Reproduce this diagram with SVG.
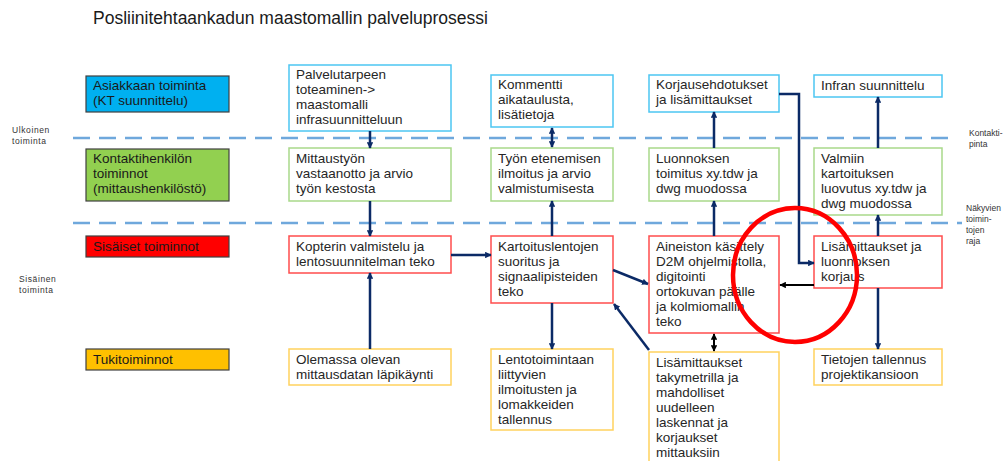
<svg xmlns="http://www.w3.org/2000/svg" width="1008" height="461" viewBox="0 0 1008 461">
  <defs>
    <marker id="ah" viewBox="0 0 10 10" refX="9" refY="5" markerWidth="6.5" markerHeight="6.5" markerUnits="userSpaceOnUse" orient="auto-start-reverse">
      <path d="M0,0 L10,5 L0,10 Z" fill="#0b2a66"/>
    </marker>
    <marker id="ahk" viewBox="0 0 10 10" refX="9" refY="5" markerWidth="6.5" markerHeight="6.5" markerUnits="userSpaceOnUse" orient="auto-start-reverse">
      <path d="M0,0 L10,5 L0,10 Z" fill="#000"/>
    </marker>
    <style>
      text { font-family: "Liberation Sans", Arial, sans-serif; fill: #262626; }
      .t { font-size: 13.5px; }
      .cat { font-size: 13.5px; fill: #1a1a1a; }
      .sm { font-size: 8.5px; fill: #333; }
      .smL { font-size: 8.5px; fill: #333; letter-spacing: 0.6px; }
      .catbox { stroke: #404040; stroke-width: 1.2; }
      .box { fill: #fff; stroke-width: 1.5; }
      .cy { stroke: #4cc6f2; }
      .gr { stroke: #a9d98a; }
      .rd { stroke: #ff4d4d; }
      .yl { stroke: #ffd25e; }
      .lane { stroke: #6fa8dc; stroke-width: 2.5; stroke-dasharray: 17 9; fill: none; }
      .c { stroke: #0b2a66; stroke-width: 2.5; fill: none; marker-end: url(#ah); }
      .cb { stroke: #0b2a66; stroke-width: 2.5; fill: none; marker-start: url(#ah); marker-end: url(#ah); }
      .ck { stroke: #000; stroke-width: 1.8; fill: none; marker-end: url(#ahk); }
      .ckb { stroke: #000; stroke-width: 2; fill: none; marker-start: url(#ahk); marker-end: url(#ahk); }
    </style>
  </defs>

  <rect width="1008" height="461" fill="#fff"/>

  <!-- Title -->
  <text x="93" y="24" font-size="17.5" style="fill:#1a1a1a">Posliinitehtaankadun maastomallin palveluprosessi</text>

  <!-- Lane boundaries -->
  <g id="lanes">
    <line class="lane" x1="73" y1="138" x2="948" y2="138"/>
    <line class="lane" x1="73" y1="223" x2="962" y2="223"/>
    <text class="smL" x="12" y="133">Ulkoinen</text>
    <text class="smL" x="12" y="144">toiminta</text>
    <text class="smL" x="19" y="282">Sisäinen</text>
    <text class="smL" x="19" y="293">toiminta</text>
    <text class="sm" x="969" y="136">Kontakti-</text>
    <text class="sm" x="969" y="147">pinta</text>
    <text class="sm" x="966" y="211">Näkyvien</text>
    <text class="sm" x="966" y="222">toimin-</text>
    <text class="sm" x="966" y="233">tojen</text>
    <text class="sm" x="966" y="244">raja</text>
  </g>

  <!-- Lane headings -->
  <g id="cat-asiakas">
    <rect class="catbox" x="86" y="76" width="143" height="36" fill="#00b0f0"/>
    <text class="cat" x="93" y="90">Asiakkaan toiminta</text>
    <text class="cat" x="93" y="105">(KT suunnittelu)</text>
  </g>
  <g id="cat-kontakti">
    <rect class="catbox" x="86" y="149" width="143" height="52" fill="#92d050"/>
    <text class="cat" x="93" y="163">Kontaktihenkilön</text>
    <text class="cat" x="93" y="178">toiminnot</text>
    <text class="cat" x="93" y="193">(mittaushenkilöstö)</text>
  </g>
  <g id="cat-sisaiset">
    <rect class="catbox" x="86" y="236" width="143" height="21" fill="#ff0000"/>
    <text class="cat" x="93" y="251">Sisäiset toiminnot</text>
  </g>
  <g id="cat-tuki">
    <rect class="catbox" x="86" y="349" width="143" height="21" fill="#ffc000"/>
    <text class="cat" x="93" y="364">Tukitoiminnot</text>
  </g>

  <!-- Column 1 -->
  <g id="n-palvelutarve">
    <rect class="box cy" x="289" y="65" width="162" height="66"/>
    <text class="t" x="296" y="79">Palvelutarpeen</text>
    <text class="t" x="296" y="94">toteaminen-&gt;</text>
    <text class="t" x="296" y="109">maastomalli</text>
    <text class="t" x="296" y="124">infrasuunnitteluun</text>
  </g>
  <g id="n-mittaustyo">
    <rect class="box gr" x="289" y="148" width="162" height="53"/>
    <text class="t" x="296" y="163">Mittaustyön</text>
    <text class="t" x="296" y="178">vastaanotto ja arvio</text>
    <text class="t" x="296" y="193">työn kestosta</text>
  </g>
  <g id="n-kopteri">
    <rect class="box rd" x="289" y="236" width="162" height="37"/>
    <text class="t" x="296" y="251">Kopterin valmistelu ja</text>
    <text class="t" x="296" y="266">lentosuunnitelman teko</text>
  </g>
  <g id="n-olemassa">
    <rect class="box yl" x="289" y="349" width="162" height="36"/>
    <text class="t" x="296" y="364">Olemassa olevan</text>
    <text class="t" x="296" y="379">mittausdatan läpikäynti</text>
  </g>

  <!-- Column 2 -->
  <g id="n-kommentti">
    <rect class="box cy" x="491" y="75" width="122" height="52"/>
    <text class="t" x="498" y="89">Kommentti</text>
    <text class="t" x="498" y="104">aikataulusta,</text>
    <text class="t" x="498" y="119">lisätietoja</text>
  </g>
  <g id="n-eteneminen">
    <rect class="box gr" x="491" y="148" width="122" height="53"/>
    <text class="t" x="498" y="163">Työn etenemisen</text>
    <text class="t" x="498" y="178">ilmoitus ja arvio</text>
    <text class="t" x="498" y="193">valmistumisesta</text>
  </g>
  <g id="n-kartoituslennot">
    <rect class="box rd" x="491" y="236" width="122" height="67"/>
    <text class="t" x="498" y="251">Kartoituslentojen</text>
    <text class="t" x="498" y="266">suoritus ja</text>
    <text class="t" x="498" y="281">signaalipisteiden</text>
    <text class="t" x="498" y="296">teko</text>
  </g>
  <g id="n-lentotoiminta">
    <rect class="box yl" x="491" y="349" width="122" height="81"/>
    <text class="t" x="498" y="364">Lentotoimintaan</text>
    <text class="t" x="498" y="379">liittyvien</text>
    <text class="t" x="498" y="394">ilmoitusten ja</text>
    <text class="t" x="498" y="409">lomakkeiden</text>
    <text class="t" x="498" y="424">tallennus</text>
  </g>

  <!-- Column 3 -->
  <g id="n-korjausehdotukset">
    <rect class="box cy" x="649" y="75" width="130" height="37"/>
    <text class="t" x="656" y="89">Korjausehdotukset</text>
    <text class="t" x="656" y="104">ja lisämittaukset</text>
  </g>
  <g id="n-luonnos">
    <rect class="box gr" x="649" y="148" width="130" height="53"/>
    <text class="t" x="656" y="163">Luonnoksen</text>
    <text class="t" x="656" y="178">toimitus xy.tdw ja</text>
    <text class="t" x="656" y="193">dwg muodossa</text>
  </g>
  <g id="n-aineisto">
    <rect class="box rd" x="649" y="236" width="130" height="97"/>
    <text class="t" x="656" y="251">Aineiston käsittely</text>
    <text class="t" x="656" y="266">D2M ohjelmistolla,</text>
    <text class="t" x="656" y="281">digitointi</text>
    <text class="t" x="656" y="296">ortokuvan päälle</text>
    <text class="t" x="656" y="311">ja kolmiomallin</text>
    <text class="t" x="656" y="326">teko</text>
  </g>
  <g id="n-lisamittaukset-taky">
    <rect class="box yl" x="649" y="352" width="130" height="115"/>
    <text class="t" x="656" y="367">Lisämittaukset</text>
    <text class="t" x="656" y="382">takymetrilla ja</text>
    <text class="t" x="656" y="397">mahdolliset</text>
    <text class="t" x="656" y="412">uudelleen</text>
    <text class="t" x="656" y="427">laskennat ja</text>
    <text class="t" x="656" y="442">korjaukset</text>
    <text class="t" x="656" y="457">mittauksiin</text>
  </g>

  <!-- Column 4 -->
  <g id="n-infra">
    <rect class="box cy" x="814" y="75" width="128" height="22"/>
    <text class="t" x="821" y="90">Infran suunnittelu</text>
  </g>
  <g id="n-valmis">
    <rect class="box gr" x="814" y="148" width="128" height="67"/>
    <text class="t" x="821" y="163">Valmiin</text>
    <text class="t" x="821" y="178">kartoituksen</text>
    <text class="t" x="821" y="193">luovutus xy.tdw ja</text>
    <text class="t" x="821" y="208">dwg muodossa</text>
  </g>
  <g id="n-korjaus">
    <rect class="box rd" x="814" y="236" width="128" height="52"/>
    <text class="t" x="821" y="251">Lisämittaukset ja</text>
    <text class="t" x="821" y="266">luonnoksen</text>
    <text class="t" x="821" y="281">korjaus</text>
  </g>
  <g id="n-tallennus">
    <rect class="box yl" x="814" y="349" width="128" height="36"/>
    <text class="t" x="821" y="364">Tietojen tallennus</text>
    <text class="t" x="821" y="379">projektikansioon</text>
  </g>

  <!-- Connectors -->
  <g id="connectors">
    <line class="c" x1="370" y1="131" x2="370" y2="148"/>
    <line class="c" x1="370" y1="201" x2="370" y2="236"/>
    <line class="c" x1="370" y1="349" x2="370" y2="273"/>
    <line class="c" x1="451" y1="255" x2="491" y2="255"/>

    <line class="cb" x1="552" y1="128" x2="552" y2="147"/>
    <line class="c" x1="552" y1="236" x2="552" y2="201"/>
    <line class="c" x1="552" y1="303" x2="552" y2="349"/>
    <line class="c" x1="613" y1="270" x2="648" y2="284"/>
    <line class="c" x1="649" y1="350" x2="614" y2="304"/>

    <line class="c" x1="714" y1="148" x2="714" y2="112"/>
    <line class="c" x1="714" y1="236" x2="714" y2="201"/>
    <line class="ckb" x1="714" y1="334" x2="714" y2="351"/>
    <polyline class="c" points="779,94 799,94 799,263 814,263"/>
    <line class="ck" x1="814" y1="285" x2="780" y2="285"/>

    <line class="c" x1="878" y1="148" x2="878" y2="97"/>
    <line class="c" x1="878" y1="236" x2="878" y2="215"/>
    <line class="c" x1="878" y1="288" x2="878" y2="349"/>
  </g>

  <!-- Highlight ring -->
  <ellipse cx="795" cy="275" rx="62" ry="67" fill="none" stroke="#ff0000" stroke-width="4.5"/>
</svg>
